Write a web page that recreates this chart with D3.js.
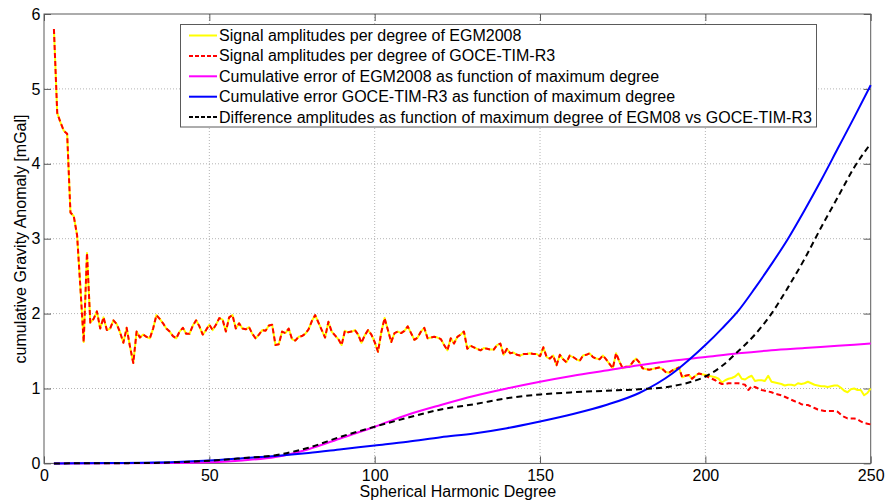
<!DOCTYPE html>
<html><head><meta charset="utf-8">
<script src="https://cdn.jsdelivr.net/npm/d3@7"></script>
<style>body{margin:0;background:#fff}svg{display:block;font-family:"Liberation Sans",Arial,sans-serif}</style>
</head><body><svg id="c" width="885" height="502"></svg>
<script>
const xTicks = [0, 50, 100, 150, 200, 250];
const yTicks = [0, 1, 2, 3, 4, 5, 6];
const xLabel = "Spherical Harmonic Degree";
const yLabel = "cumulative Gravity Anomaly [mGal]";
const legendLabels = [
  "Signal amplitudes per degree of EGM2008",
  "Signal amplitudes per degree of GOCE-TIM-R3",
  "Cumulative error of EGM2008 as function of maximum degree",
  "Cumulative error GOCE-TIM-R3 as function of maximum degree",
  "Difference amplitudes as function of maximum degree of EGM08 vs GOCE-TIM-R3"
];
// signal amplitudes per degree, identical for both models from degree 3 to 199
const signalStartDegree = 3;
const signalCommon = [
 5.80,4.68,4.55,4.44,4.40,3.35,3.30,3.05,2.35,1.62,2.81,1.88,1.93,2.03,1.80,1.95,1.78,1.80,1.91,1.86,
 1.75,1.61,1.81,1.56,1.34,1.76,1.68,1.72,1.69,1.67,1.80,1.98,1.93,1.87,1.80,1.76,1.70,1.67,1.76,1.81,
 1.73,1.73,1.84,1.91,1.83,1.72,1.78,1.85,1.78,1.85,1.94,1.92,1.76,1.95,1.98,1.80,1.87,1.80,1.79,1.82,
 1.73,1.67,1.72,1.78,1.77,1.84,1.85,1.58,1.59,1.76,1.74,1.80,1.66,1.64,1.69,1.70,1.73,1.79,1.90,1.98,
 1.88,1.78,1.68,1.89,1.76,1.71,1.66,1.58,1.77,1.75,1.76,1.78,1.72,1.61,1.71,1.78,1.72,1.62,1.49,1.75,
 1.94,1.78,1.62,1.74,1.76,1.74,1.77,1.83,1.74,1.65,1.68,1.76,1.81,1.67,1.68,1.69,1.68,1.66,1.58,1.51,
 1.67,1.60,1.69,1.72,1.76,1.53,1.57,1.55,1.53,1.51,1.54,1.53,1.52,1.52,1.58,1.60,1.45,1.53,1.47,1.48,
 1.45,1.44,1.46,1.46,1.47,1.46,1.46,1.43,1.55,1.42,1.40,1.44,1.31,1.45,1.39,1.35,1.44,1.42,1.39,1.37,
 1.44,1.45,1.47,1.42,1.40,1.39,1.44,1.39,1.33,1.27,1.47,1.36,1.27,1.29,1.29,1.35,1.40,1.35,1.27,1.26,
 1.25,1.26,1.27,1.28,1.26,1.22,1.21,1.24,1.26,1.28,1.15,1.17,1.18,1.13,1.17,1.20,1.19
];
const tailStartDegree = 200;
const egmTail = [
 1.18,1.17,1.16,1.15,1.13,1.08,1.11,1.13,1.14,1.16,1.20,1.13,1.12,1.15,1.17,1.10,1.11,1.11,1.10,1.17,
 1.09,1.08,1.07,1.06,1.04,1.05,1.05,1.04,1.07,1.06,1.07,1.09,1.07,1.05,1.04,1.03,1.03,1.02,1.03,1.04,
 1.04,1.01,0.97,0.95,0.99,1.00,0.98,0.98,0.91,0.94,1.00
];
const goceTail = [
 1.17,1.15,1.13,1.11,1.08,1.06,1.06,1.07,1.07,1.07,1.07,1.06,1.05,0.98,1.03,1.02,1.00,0.98,0.97,0.96,
 0.95,0.93,0.92,0.91,0.89,0.87,0.85,0.83,0.82,0.79,0.78,0.78,0.76,0.74,0.72,0.71,0.70,0.70,0.70,0.70,
 0.69,0.65,0.62,0.60,0.60,0.60,0.59,0.56,0.54,0.53,0.52
];
const egmErrDeg = [3,40,50,60,70,80,90,100,110,120,130,140,150,160,170,180,190,200,210,220,230,240,250];
const egmErrVal = [0,0.005,0.015,0.04,0.085,0.19,0.34,0.49,0.65,0.78,0.90,1.00,1.09,1.17,1.24,1.31,1.37,1.42,1.47,1.51,1.54,1.57,1.60];
const goceErrDeg = [3,20,30,40,50,60,70,80,90,100,110,120,130,140,150,160,170,180,190,195,200,205,210,215,220,225,230,235,240,245,250];
const goceErrVal = [0,0.005,0.01,0.02,0.04,0.07,0.10,0.14,0.19,0.24,0.29,0.35,0.40,0.47,0.56,0.66,0.78,0.94,1.20,1.38,1.58,1.80,2.04,2.34,2.66,3.00,3.38,3.78,4.20,4.62,5.05];
const diffDeg = [3,30,40,50,60,70,80,90,100,110,120,130,140,150,160,170,180,190,195,200,205,210,215,220,225,230,235,240,245,250];
const diffVal = [0,0.005,0.015,0.035,0.07,0.11,0.21,0.36,0.49,0.61,0.72,0.79,0.87,0.92,0.95,0.97,0.99,1.03,1.08,1.16,1.30,1.50,1.72,2.00,2.35,2.73,3.15,3.55,3.95,4.27];

const svg = d3.select("#c");
const L = 44, R = 870.7, T = 14, B = 463.4;
const x = d3.scaleLinear().domain([0, 250]).range([L, R]);
const y = d3.scaleLinear().domain([0, 6]).range([B, T]);
const frame = "#5a5a5a";

// grid
const grid = svg.append("g").attr("stroke", "#b4b4b4").attr("stroke-width", 1).attr("stroke-dasharray", "1,2");
xTicks.slice(1, -1).forEach(t => grid.append("line").attr("x1", x(t)).attr("x2", x(t)).attr("y1", T).attr("y2", B));
yTicks.slice(1, -1).forEach(t => grid.append("line").attr("x1", L).attr("x2", R).attr("y1", y(t)).attr("y2", y(t)));

// axes with inward ticks
const fmt = d3.format("d");
const axB = svg.append("g").attr("transform", `translate(0,${B})`).call(d3.axisBottom(x).tickValues(xTicks).tickFormat(fmt).tickSizeInner(-7).tickSizeOuter(0).tickPadding(6.5));
const axT = svg.append("g").attr("transform", `translate(0,${T})`).call(d3.axisTop(x).tickValues(xTicks).tickSizeInner(-7).tickSizeOuter(0).tickFormat(""));
const axL = svg.append("g").attr("transform", `translate(${L},0)`).call(d3.axisLeft(y).tickValues(yTicks).tickFormat(fmt).tickSizeInner(-7).tickSizeOuter(0).tickPadding(3.5));
const axR = svg.append("g").attr("transform", `translate(${R},0)`).call(d3.axisRight(y).tickValues(yTicks).tickSizeInner(-7).tickSizeOuter(0).tickFormat(""));
[axB, axT, axL, axR].forEach(a => {
  a.select(".domain").remove();
  a.selectAll(".tick line").attr("stroke", frame);
  a.selectAll("text").attr("font-size", 16).attr("fill", "#000").attr("font-family", '"Liberation Sans",Arial,sans-serif');
});
svg.append("rect").attr("x", L).attr("y", T).attr("width", R - L).attr("height", B - T)
  .attr("fill", "none").attr("stroke", frame).attr("stroke-width", 1);

// data lines
const plot = svg.append("g");
const lineL = d3.line().x(d => x(d[0])).y(d => y(d[1]));
const lineS = d3.line().x(d => x(d[0])).y(d => y(d[1])).curve(d3.curveMonotoneX);
const common = signalCommon.map((v, i) => [signalStartDegree + i, v]);
const egmSig = common.concat(egmTail.map((v, i) => [tailStartDegree + i, v]));
const goceSig = common.concat(goceTail.map((v, i) => [tailStartDegree + i, v]));
const series = [
  {d: egmSig, line: lineL, color: "#ffff00", dash: null},
  {d: goceSig, line: lineL, color: "#ff0000", dash: "5,3"},
  {d: egmErrDeg.map((g, i) => [g, egmErrVal[i]]), line: lineS, color: "#ff00ff", dash: null},
  {d: goceErrDeg.map((g, i) => [g, goceErrVal[i]]), line: lineS, color: "#0000ff", dash: null},
  {d: diffDeg.map((g, i) => [g, diffVal[i]]), line: lineS, color: "#000000", dash: "6,4"}
];
series.forEach(s => {
  plot.append("path").attr("d", s.line(s.d)).attr("fill", "none").attr("stroke", s.color)
    .attr("stroke-width", 2).attr("stroke-dasharray", s.dash).attr("stroke-linejoin", "round");
});

// legend
const lg = svg.append("g");
lg.append("rect").attr("x", 180.5).attr("y", 24.5).attr("width", 636).attr("height", 102.5)
  .attr("fill", "#fff").attr("stroke", frame).attr("stroke-width", 1);
legendLabels.forEach((t, i) => {
  const yy = 35.5 + i * 20.4;
  const s = series[i];
  lg.append("line").attr("x1", 189).attr("x2", 217).attr("y1", yy).attr("y2", yy)
    .attr("stroke", s.color).attr("stroke-width", 2).attr("stroke-dasharray", s.dash ? "4,2" : null);
  lg.append("text").attr("x", 219).attr("y", yy + 5.5).attr("font-size", 16).attr("fill", "#000")
    .attr("textLength", i === 4 ? 593 : null).text(t);
});

// axis labels
svg.append("text").attr("x", (L + R) / 2 + 0.5).attr("y", 497).attr("text-anchor", "middle")
  .attr("font-size", 16).attr("fill", "#000").text(xLabel);
svg.append("text").attr("transform", `translate(26,239) rotate(-90)`).attr("text-anchor", "middle")
  .attr("font-size", 16).attr("fill", "#000").text(yLabel);
</script></body></html>
